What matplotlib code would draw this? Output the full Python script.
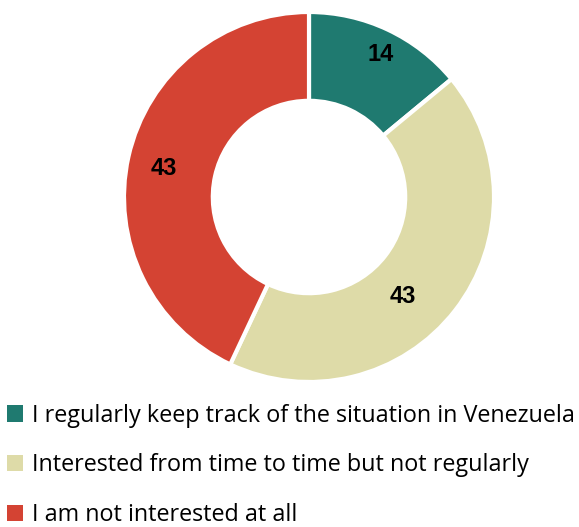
import matplotlib.pyplot as plt
from matplotlib.patches import Patch
import numpy as np

# data
labels = ["I regularly keep track of the situation in Venezuela",
          "Interested from time to time but not regularly",
          "I am not interested at all"]
values = [14, 43, 43]
colors = ["#1F7A70", "#DEDBA8", "#D44333"]

fig = plt.figure(figsize=(5.79, 5.27), dpi=100)
ax = fig.add_axes([124 / 579, 145 / 527, 370 / 579, 370 / 527])

wedges, texts = ax.pie(values, colors=colors, startangle=90, counterclock=False,
                       radius=1.0,
                       wedgeprops=dict(width=0.48, edgecolor="white", linewidth=3))
ax.set_xlim(-1, 1)
ax.set_ylim(-1, 1)
ax.set_aspect("equal")

# value labels inside the ring
label_r = [0.86, 0.74, 0.80]
label_shift = [-1.5, -9, 1.5]  # degrees
for w, v, r, s in zip(wedges, values, label_r, label_shift):
    ang = np.deg2rad((w.theta1 + w.theta2) / 2 + s)
    ax.text(r * np.cos(ang), r * np.sin(ang), str(v), ha="center", va="center",
            fontsize=17, family="Liberation Sans", weight="bold", color="black")

handles = [Patch(facecolor=c, edgecolor="none") for c in colors]
fig.legend(handles, labels, loc="upper left", bbox_to_anchor=(0.0, 0.247),
           frameon=False, prop=dict(family="Open Sans", size=16.8),
           handlelength=0.7, handleheight=0.7, handletextpad=0.35,
           labelspacing=1.1, borderaxespad=0, borderpad=0.3)

fig.savefig("out.png", dpi=100)
